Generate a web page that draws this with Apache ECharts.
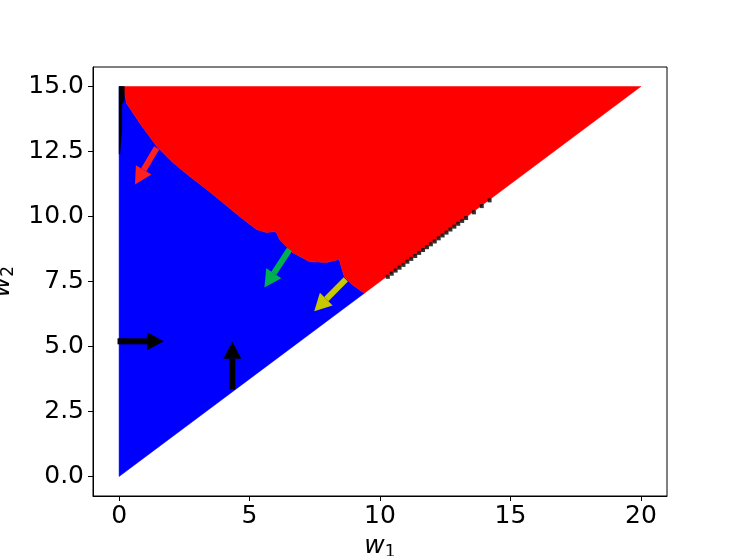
<!DOCTYPE html>
<html><head><meta charset="utf-8">
<script src="https://cdn.jsdelivr.net/npm/echarts@6/dist/echarts.min.js"></script>
<style>html,body{margin:0;padding:0;background:#fff}#c{width:741px;height:556px}</style>
</head><body><div id="c"></div>
<script>
// Red/blue decision boundary (w1, w2), from top-left down to the diagonal
const boundary = [[0.15,15.0],[0.29,14.35],[0.80,13.58],[1.44,12.70],[2.06,12.08],[2.71,11.54],[3.36,11.04],[3.97,10.54],[4.62,10.0],[5.27,9.5],[5.65,9.38],[5.95,9.42],[6.03,9.38],[6.15,9.12],[6.64,8.62],[7.29,8.27],[7.94,8.23],[8.44,8.35],[8.51,8.08],[8.63,7.69],[8.93,7.38],[9.40,7.05]];
const origin = [0,0];
const topLeft = [0,15];
const topRight = [20,15];
// black strip along w1 = 0
const blackStrip = [[0,15],[0.2,15],[0.2,14.5],[0.1,14.3],[0.1,13.3],[0.03,12.4],[0,12.4]];
// black dots along the diagonal
const blackDots = [[10.3,7.68],[10.45,7.8],[10.6,7.92],[10.75,8.03],[10.9,8.14],[11.05,8.26],[11.2,8.37],[11.35,8.48],[11.5,8.6],[11.65,8.71],[11.8,8.82],[11.95,8.93],[12.1,9.04],[12.25,9.16],[12.4,9.27],[12.55,9.38],[12.7,9.5],[12.85,9.61],[13.0,9.72],[13.15,9.83],[13.3,9.94],[13.6,10.16],[13.9,10.4],[14.2,10.62]];
// arrows: [tailW1, tailW2, tipW1, tipW2]
const arrows = [
  [1.44,12.64,0.61,11.23,'#ff2020'],
  [6.53,8.73,5.57,7.27,'#00b050'],
  [8.69,7.58,7.48,6.36,'#c8c800'],
  [-0.06,5.2,1.72,5.2,'#000000'],
  [4.34,3.35,4.34,5.18,'#000000']
];
const xTicks = [0,5,10,15,20];
const yTicks = [0,2.5,5,7.5,10,12.5,15];

const bluePoly = [origin, topLeft].concat(boundary);
const redPoly = boundary.concat([topRight]);

function polySeries(pts, color, z) {
  return {
    type: 'custom', coordinateSystem: 'cartesian2d', z: z, silent: true,
    data: pts, encode: {x: 0, y: 1},
    renderItem: function (params, api) {
      if (params.dataIndex !== 0) return;
      const p = pts.map(function (d) { return api.coord(d); });
      return {type: 'polygon', shape: {points: p}, style: {fill: color, stroke: color, lineWidth: 0.5}};
    }
  };
}
const richName = {
  w: {fontSize: 25, fontStyle: 'italic', fontFamily: 'DejaVu Sans', color: '#000'},
  s: {fontSize: 17, fontFamily: 'DejaVu Sans', color: '#000', padding: [12,0,0,0]}
};

const option = {
  animation: false,
  backgroundColor: '#fff',
  grid: {left: 93, right: 74, top: 67, bottom: 60, show: true, borderColor: '#000', borderWidth: 1, outerBoundsMode: 'none', containLabel: false},
  xAxis: {
    type: 'value', min: -1, max: 21,
    name: '{w|w}{s|1}', nameLocation: 'middle', nameGap: 36,
    nameTextStyle: {rich: richName},
    axisLine: {show: true, onZero: false, lineStyle: {color: '#000', width: 1}},
    axisTick: {show: true, customValues: xTicks, length: 5, lineStyle: {color: '#000'}},
    axisLabel: {customValues: xTicks, fontSize: 25, fontFamily: 'DejaVu Sans', color: '#000', margin: 8},
    splitLine: {show: false}
  },
  yAxis: {
    type: 'value', min: -0.75, max: 15.75,
    name: '{w|w}{s|2}', nameLocation: 'middle', nameGap: 74, nameRotate: 90,
    nameTextStyle: {rich: richName},
    axisLine: {show: true, onZero: false, lineStyle: {color: '#000', width: 1}},
    axisTick: {show: true, customValues: yTicks, length: 5, lineStyle: {color: '#000'}},
    axisLabel: {customValues: yTicks, fontSize: 25, fontFamily: 'DejaVu Sans', color: '#000', margin: 9,
      formatter: function (v) { return Number(v).toFixed(1); }},
    splitLine: {show: false}
  },
  series: [
    polySeries(bluePoly, '#0000ff', 1),
    polySeries(redPoly, '#ff0000', 2),
    polySeries(blackStrip, '#000000', 3),
    {type: 'scatter', data: blackDots, symbol: 'rect', symbolSize: 4, itemStyle: {color: '#000'}, z: 4, silent: true},
    {
      type: 'custom', coordinateSystem: 'cartesian2d', z: 5, silent: true,
      data: arrows, encode: {x: [0, 2], y: [1, 3]},
      renderItem: function (params, api) {
        const a = api.coord([api.value(0), api.value(1)]);
        const b = api.coord([api.value(2), api.value(3)]);
        const color = arrows[params.dataIndex][4];
        const dx = b[0] - a[0], dy = b[1] - a[1];
        const L = Math.sqrt(dx*dx + dy*dy);
        const ux = dx / L, uy = dy / L, nx = -uy, ny = ux;
        const hl = 17, hw = 9, sw = 3;
        const bx = b[0] - ux*hl, by = b[1] - uy*hl;
        return {type: 'group', children: [
          {type: 'polygon', shape: {points: [[a[0]+nx*sw, a[1]+ny*sw],[bx+nx*sw, by+ny*sw],[bx-nx*sw, by-ny*sw],[a[0]-nx*sw, a[1]-ny*sw]]}, style: {fill: color}},
          {type: 'polygon', shape: {points: [[bx+nx*hw, by+ny*hw],[b[0], b[1]],[bx-nx*hw, by-ny*hw]]}, style: {fill: color}}
        ]};
      }
    }
  ]
};
echarts.init(document.getElementById('c')).setOption(option);
</script></body></html>
